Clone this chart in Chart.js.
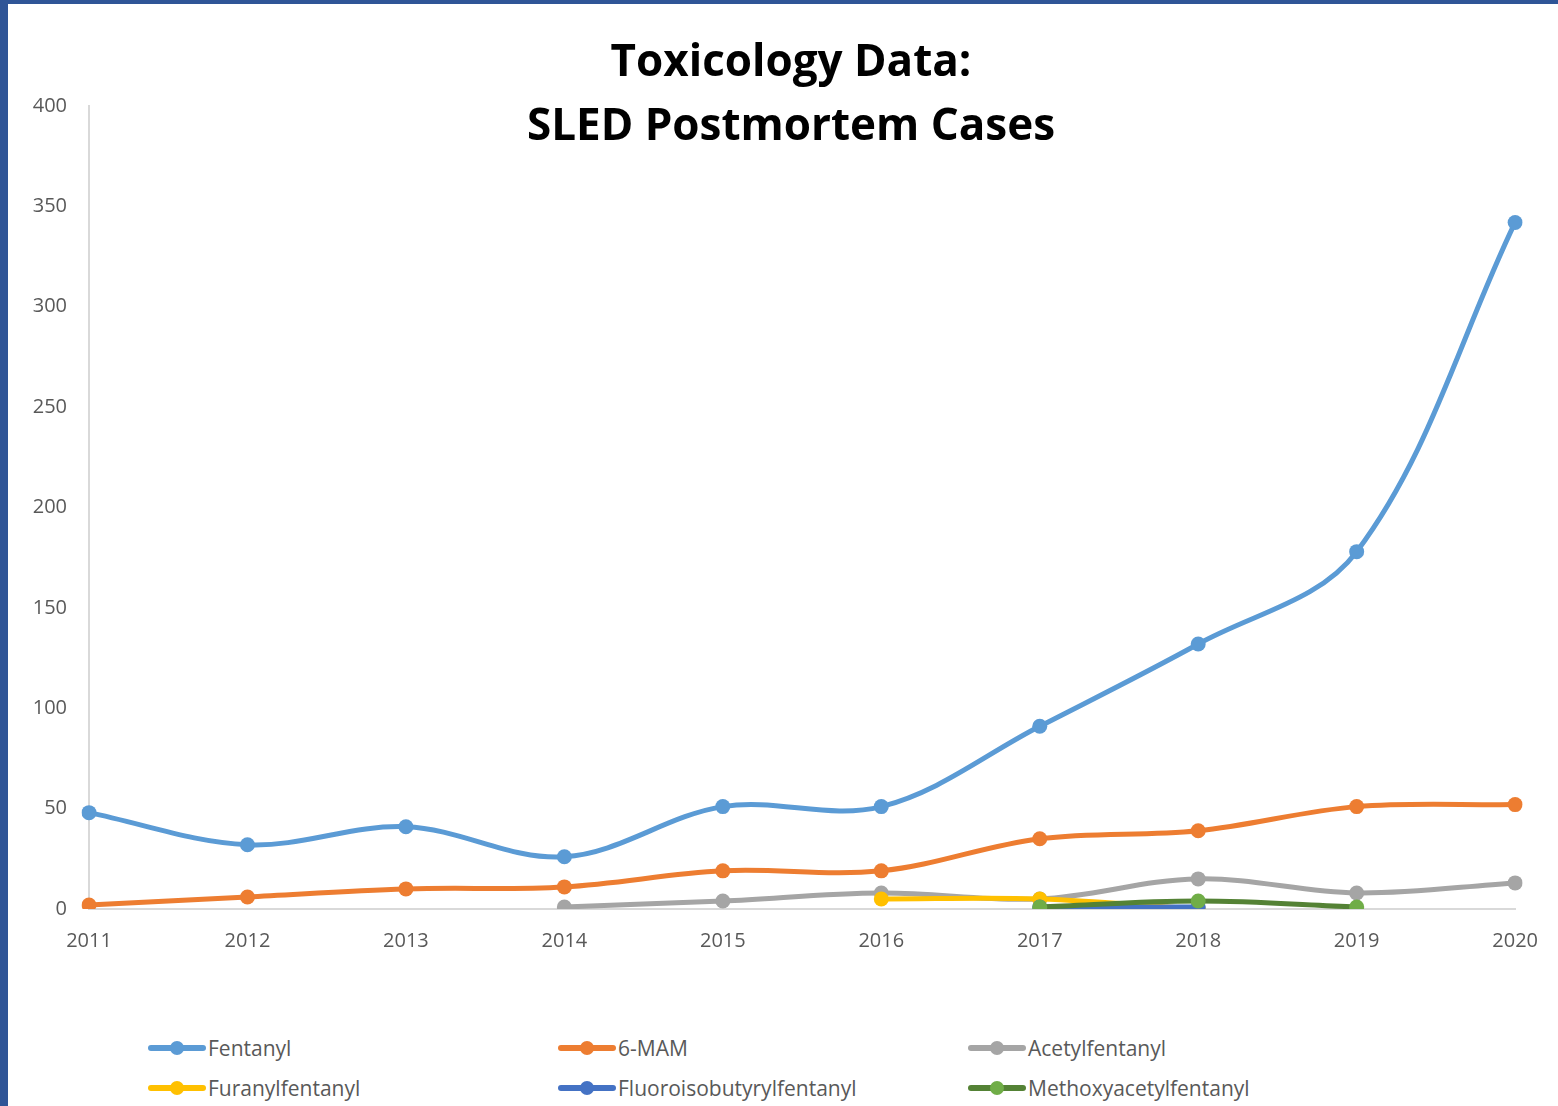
<!DOCTYPE html>
<html>
<head>
<meta charset="utf-8">
<script src="https://cdn.jsdelivr.net/npm/chart.js@4/dist/chart.umd.min.js"></script>
<style>
  html, body { margin: 0; padding: 0; background: #fff; }
  #page { position: relative; width: 1558px; height: 1106px; overflow: hidden; background: #fff; }
  #frame-top { position: absolute; left: 0; top: 0; width: 1558px; height: 4px; background: #2F5597; }
  #frame-left { position: absolute; left: 0; top: 0; width: 8px; height: 1106px; background: #2F5597; }
  #chart-wrap { position: absolute; left: 0; top: 0; width: 1558px; height: 1000px; }
  #title {
    position: absolute; left: 291px; top: 27px; width: 1000px; text-align: center;
    font-family: "Open Sans", sans-serif; font-weight: bold; font-size: 44px;
    line-height: 64px; color: #000;
  }
  .legend-item {
    position: absolute; display: flex; align-items: center;
    font-family: "Open Sans", sans-serif; font-size: 21px; color: #595959;
  }
  .legend-swatch { position: relative; width: 58px; height: 14px; margin-right: 2px; }
  .legend-swatch .bar { position: absolute; left: 0; top: 4px; width: 58px; height: 6px; border-radius: 3px; }
  .legend-swatch .dot { position: absolute; left: 22px; top: 0; width: 14px; height: 14px; border-radius: 50%; }
</style>
</head>
<body>
<div id="page">
  <div id="chart-wrap"><canvas id="chart" width="1558" height="1000"></canvas></div>
  <div id="title">Toxicology Data:<br>SLED Postmortem Cases</div>
  <div id="legend"></div>
  <div id="frame-top"></div>
  <div id="frame-left"></div>
</div>
<script>
// Values (cases per year).
const years = ['2011', '2012', '2013', '2014', '2015', '2016', '2017', '2018', '2019', '2020'];
const fentanyl = [48, 32, 41, 26, 51, 51, 91, 132, 178, 342];
const mam6 = [2, 6, 10, 11, 19, 19, 35, 39, 51, 52];
const acetylfentanyl = [null, null, null, 1, 4, 8, 5, 15, 8, 13];
const furanylfentanyl = [null, null, null, null, null, 5, 5, 0, null, null];
const fluoroisobutyrylfentanyl = [null, null, null, null, null, null, 1, 1, null, null];
const methoxyacetylfentanyl = [null, null, null, null, null, null, 1, 4, 1, null];

const seriesNames = ['Fentanyl', '6-MAM', 'Acetylfentanyl', 'Furanylfentanyl',
  'Fluoroisobutyrylfentanyl', 'Methoxyacetylfentanyl'];
const seriesValues = [fentanyl, mam6, acetylfentanyl, furanylfentanyl,
  fluoroisobutyrylfentanyl, methoxyacetylfentanyl];
const lineColors = ['#5B9BD5', '#ED7D31', '#A5A5A5', '#FFC000', '#4472C4', '#548235'];
const markerColors = ['#5B9BD5', '#ED7D31', '#A5A5A5', '#FFC000', '#4472C4', '#70AD47'];

const yTicks = [0, 50, 100, 150, 200, 250, 300, 350, 400];

const TICK_FONT = { family: '"Open Sans", sans-serif', size: 20 };
const TICK_COLOR = '#595959';
const AXIS_COLOR = '#D9D9D9';

const datasets = seriesNames.map((name, i) => ({
  label: name,
  data: seriesValues[i],
  borderColor: lineColors[i],
  backgroundColor: markerColors[i],
  pointBackgroundColor: markerColors[i],
  pointBorderColor: markerColors[i],
  pointRadius: 7.5,
  pointBorderWidth: 0,
  borderWidth: 5,
  tension: 0.35,
  // later series drawn on top, as in the original
  order: seriesNames.length - i,
}));

new Chart(document.getElementById('chart'), {
  type: 'line',
  data: { labels: years, datasets },
  options: {
    responsive: false,
    animation: false,
    maintainAspectRatio: false,
    layout: { padding: { left: 0, right: 41, top: 106, bottom: 0 } },
    plugins: { legend: { display: false }, title: { display: false }, tooltip: { enabled: false } },
    scales: {
      x: {
        grid: { display: false, drawTicks: false },
        border: { display: true, color: AXIS_COLOR, width: 2 },
        ticks: { font: TICK_FONT, color: TICK_COLOR, padding: 20, maxRotation: 0 },
        afterFit(scale) { scale.height = 91; },
      },
      y: {
        min: 0,
        max: 400,
        grid: { display: false, drawTicks: false },
        border: { display: true, color: AXIS_COLOR, width: 2 },
        afterBuildTicks(scale) { scale.ticks = yTicks.map(v => ({ value: v })); },
        ticks: { font: TICK_FONT, color: TICK_COLOR, padding: 22 },
        afterFit(scale) { scale.width = 89; },
      },
    },
  },
});

// HTML legend in a fixed 3-column grid, built from the same series lists.
const legendEl = document.getElementById('legend');
const colX = [148, 558, 968];
const rowY = [1049, 1089];
seriesNames.forEach((name, i) => {
  const item = document.createElement('div');
  item.className = 'legend-item';
  item.style.left = colX[i % 3] + 'px';
  item.style.top = (rowY[Math.floor(i / 3)] - 15) + 'px';
  item.innerHTML =
    '<div class="legend-swatch"><div class="bar" style="background:' + lineColors[i] +
    '"></div><div class="dot" style="background:' + markerColors[i] + '"></div></div>' +
    '<span>' + name + '</span>';
  legendEl.appendChild(item);
});
</script>
</body>
</html>
